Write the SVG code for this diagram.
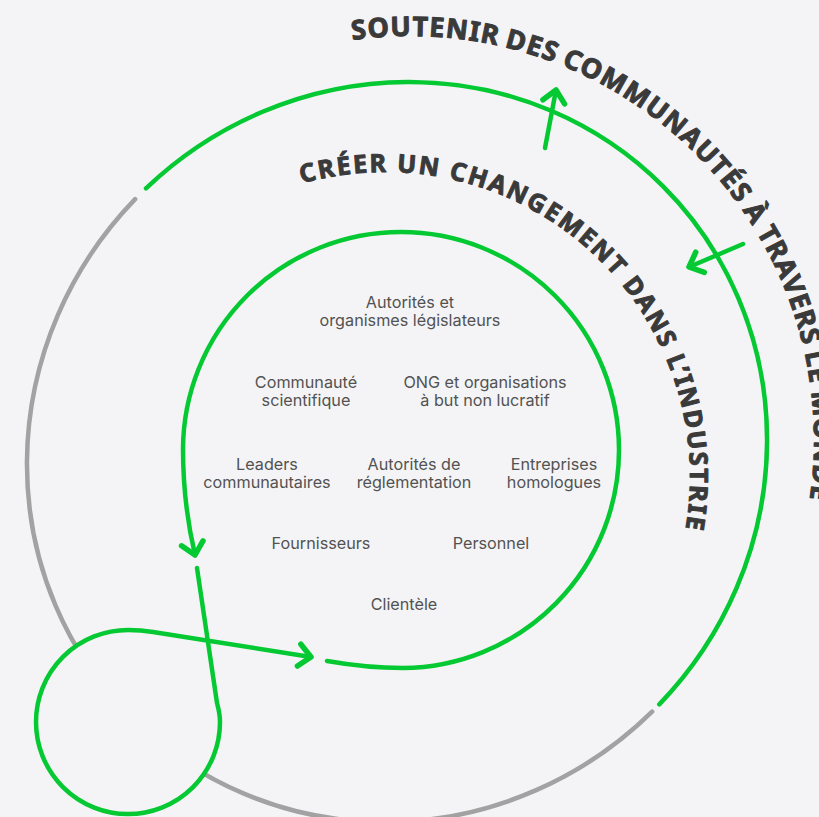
<svg xmlns="http://www.w3.org/2000/svg" width="819" height="817" viewBox="0 0 819 817">
<style>
.bg{fill:#f4f4f6}
.g{fill:none;stroke:#05c932;stroke-width:4.5;stroke-linecap:round;stroke-linejoin:round}
.gr{fill:none;stroke:#a2a2a2;stroke-width:4.5;stroke-linecap:round}
.lbl{font-family:Inter,"Noto Sans",sans-serif;font-size:16.2px;fill:#525252;text-anchor:middle}
.arc{font-family:"Noto Sans","DejaVu Sans",sans-serif;font-weight:700;fill:#3a3a3a;stroke:#3a3a3a;stroke-width:1;stroke-linejoin:round}
</style>
<defs>
<marker id="chev" markerUnits="userSpaceOnUse" viewBox="-15 -15 30 30" markerWidth="30" markerHeight="30" refX="0" refY="0" orient="auto" overflow="visible">
<path d="M-12,-11 L0,0 L-12,11" fill="none" stroke="#05c932" stroke-width="5.5" stroke-linecap="round" stroke-linejoin="round"/>
</marker>
<path id="outerText" d="M352.4,40.1 A404,404 0 0 1 719.5,699.7"/>
<path id="innerText" d="M301.9,183.5 A305,305 0 0 1 618.6,673.1"/>
</defs>
<rect class="bg" x="0" y="0" width="819" height="817"/>

<g id="outer-ring">
<ellipse class="gr" cx="397" cy="452" rx="376" ry="364" transform="rotate(-45 397 452)" pathLength="360" stroke-dasharray="178.5 181.5" stroke-dashoffset="269.5"/>
<ellipse class="g" cx="397" cy="452" rx="376" ry="364" transform="rotate(-45 397 452)" pathLength="360" stroke-dasharray="177.5 182.5" stroke-dashoffset="88.6"/>
<text class="arc" font-size="27" letter-spacing="1.1" word-spacing="-1.5"><textPath href="#outerText">SOUTENIR DES COMMUNAUTÉS À TRAVERS LE MONDE</textPath></text>
</g>

<g id="inner-ring">
<text class="arc" font-size="25" letter-spacing="2.1"><textPath href="#innerText">CRÉER UN CHANGEMENT DANS L’INDUSTRIE</textPath></text>
</g>

<g id="loop-mask">
<circle class="bg" cx="128" cy="722" r="92"/>
</g>

<g id="connectors">
<path class="g" d="M327,661 C350,665 378,668 403,668 A218,218 0 1 0 183,449 C183,490 188,525 195,555" marker-end="url(#chev)"/>
<path class="g" d="M197,568 L217,703 Q220,714 220,722 A92,92 0 1 1 128,630 Q141,630 153,632 L311,657" marker-end="url(#chev)"/>
<path class="g" d="M545,148 L556,90" marker-end="url(#chev)"/>
<path class="g" d="M743,244 L689,267" marker-end="url(#chev)"/>
</g>

<g id="n-autorites-legis"><text class="lbl"><tspan x="410" y="308">Autorités et</tspan><tspan x="410" y="326">organismes législateurs</tspan></text></g>
<g id="n-communaute-sci"><text class="lbl"><tspan x="306" y="388">Communauté</tspan><tspan x="306" y="406">scientifique</tspan></text></g>
<g id="n-ong"><text class="lbl"><tspan x="485" y="388">ONG et organisations</tspan><tspan x="485" y="406">à but non lucratif</tspan></text></g>
<g id="n-leaders"><text class="lbl"><tspan x="267" y="470">Leaders</tspan><tspan x="267" y="488">communautaires</tspan></text></g>
<g id="n-autorites-regl"><text class="lbl"><tspan x="414" y="470">Autorités de</tspan><tspan x="414" y="488">réglementation</tspan></text></g>
<g id="n-entreprises"><text class="lbl"><tspan x="554" y="470">Entreprises</tspan><tspan x="554" y="488">homologues</tspan></text></g>
<g id="n-fournisseurs"><text class="lbl" x="321" y="549">Fournisseurs</text></g>
<g id="n-personnel"><text class="lbl" x="491" y="549">Personnel</text></g>
<g id="n-clientele"><text class="lbl" x="404" y="610">Clientèle</text></g>
</svg>
